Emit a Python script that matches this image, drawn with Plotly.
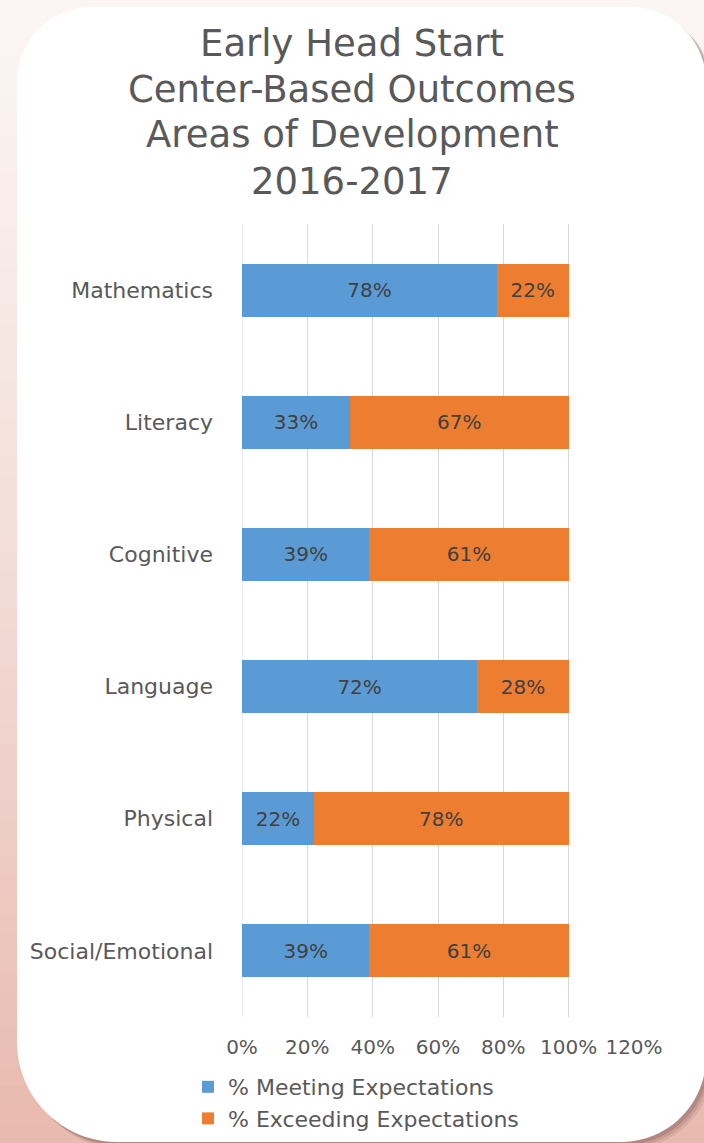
import plotly.graph_objects as go
import numpy as np

# ---- data ----
categories = ["Mathematics", "Literacy", "Cognitive", "Language", "Physical", "Social/Emotional"]
meeting = [78, 33, 39, 72, 22, 39]
exceeding = [22, 67, 61, 28, 78, 61]
title_lines = ["Early Head Start", "Center-Based Outcomes", "Areas of Development", "2016-2017"]
series_names = ["% Meeting Expectations", "% Exceeding Expectations"]

W, H = 704, 1143
ML, MR, MT, MB = 242, 70, 224, 126
PW, PH = W - ML - MR, H - MT - MB

def px(x):
    return (x - ML) / PW

def py(y):
    return (H - MB - y) / PH

FONT = "'DejaVu Sans', Verdana, sans-serif"
BLUE = "#5B9BD5"
ORANGE = "#ED7D31"
TXT = "#595959"

fig = go.Figure()
fig.add_trace(go.Bar(
    y=categories, x=meeting, name=series_names[0], orientation="h",
    marker=dict(color=BLUE, line=dict(width=0)),
    texttemplate="%{x}", textposition="inside", insidetextanchor="middle",
    textfont=dict(color="#404040", size=20, family=FONT),
))
fig.add_trace(go.Bar(
    y=categories, x=exceeding, name=series_names[1], orientation="h",
    marker=dict(color=ORANGE, line=dict(width=0)),
    texttemplate="%{x}", textposition="inside", insidetextanchor="middle",
    textfont=dict(color="#404040", size=20, family=FONT),
))

shapes = []
# background gradient bands
top_c = np.array([252, 247, 245])
mid_c = np.array([243, 221, 215])
bot_c = np.array([233, 186, 175])
N = 60
for i in range(N):
    t = (i + 0.5) / N
    if t < 0.5:
        c = top_c + (mid_c - top_c) * (t / 0.5)
    else:
        c = mid_c + (bot_c - mid_c) * ((t - 0.5) / 0.5)
    y0 = H * i / N
    y1 = H * (i + 1) / N + 1
    shapes.append(dict(type="rect", xref="paper", yref="paper", layer="below",
                       x0=px(0), x1=px(W), y0=py(y0), y1=py(y1),
                       line=dict(width=0), fillcolor="rgb(%d,%d,%d)" % tuple(c.astype(int))))

def card_path(dx=0, dy=0, L=17, R=706, T=7, B=1142, rtl=75, rtr=75, rbr=85, rbl=100):
    pts = []
    def arc(cx, cy, r, a0, a1, n=24):
        for k in range(n + 1):
            a = a0 + (a1 - a0) * k / n
            pts.append((cx + r * np.cos(a), cy + r * np.sin(a)))
    arc(L + rtl, T + rtl, rtl, np.pi, 1.5 * np.pi)
    arc(R - rtr, T + rtr, rtr, 1.5 * np.pi, 2 * np.pi)
    arc(R - rbr, B - rbr, rbr, 0, 0.5 * np.pi)
    arc(L + rbl, B - rbl, rbl, 0.5 * np.pi, np.pi)
    return "M " + " L ".join("%.5f,%.5f" % (px(x + dx), py(y + dy)) for x, y in pts) + " Z"

# shadow
for off, op in [(7, 0.10), (5, 0.14), (3, 0.20)]:
    shapes.append(dict(type="path", xref="paper", yref="paper", layer="below",
                       path=card_path(dx=off, dy=off), line=dict(width=0),
                       fillcolor="rgba(90,60,55,%.2f)" % op))
shapes.append(dict(type="path", xref="paper", yref="paper", layer="below",
                   path=card_path(), line=dict(width=0), fillcolor="white"))

annotations = []
for i, line in enumerate(title_lines):
    annotations.append(dict(text=line, xref="paper", yref="paper", x=px(352), y=py(43 + 46 * i),
                            xanchor="center", yanchor="middle", showarrow=False,
                            font=dict(family=FONT, size=37, color=TXT)))

fig.update_layout(
    width=W, height=H,
    margin=dict(l=ML, r=MR, t=MT, b=MB, autoexpand=False),
    paper_bgcolor="white",
    plot_bgcolor="rgba(0,0,0,0)",
    barmode="stack",
    bargap=0.6,
    showlegend=True,
    legend=dict(orientation="v", x=px(188), y=py(1066), xanchor="left", yanchor="top",
                font=dict(family=FONT, size=22, color=TXT),
                bgcolor="rgba(0,0,0,0)", traceorder="grouped", tracegroupgap=15),
    shapes=shapes,
    annotations=annotations,
    font=dict(family=FONT, color=TXT),
)
fig.update_xaxes(range=[0, 120], dtick=20, ticksuffix="%", showgrid=True, gridcolor="#d9d9d9",
                 gridwidth=1, zeroline=False, showline=False, ticks="", automargin=False,
                 ticklabelstandoff=16,
                 tickfont=dict(family=FONT, size=20, color=TXT), fixedrange=True)
fig.update_yaxes(autorange="reversed", showgrid=False, showline=False, ticks="", automargin=False,
                 ticklabelstandoff=28,
                 tickfont=dict(family=FONT, size=22, color=TXT), fixedrange=True)
fig.add_vline(x=0, line=dict(color="#d9d9d9", width=1), layer="below")

fig.write_html("out.html", config={"displayModeBar": False},
               post_script="document.body.style.margin='0px';")
